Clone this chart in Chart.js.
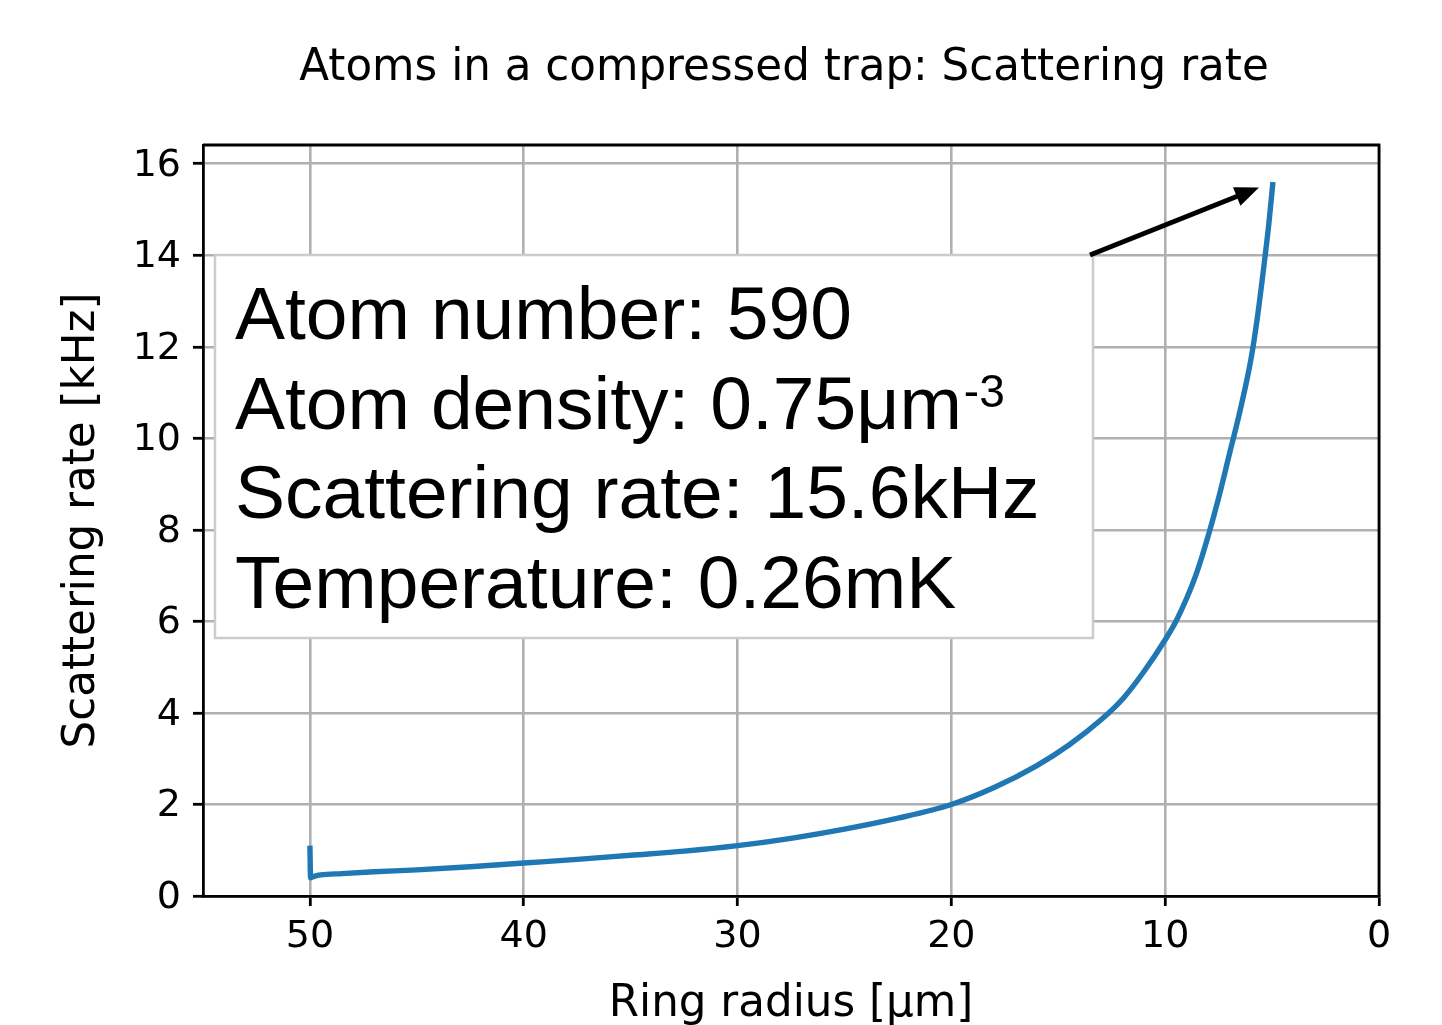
<!DOCTYPE html>
<html>
<head>
<meta charset="utf-8">
<title>Scattering rate</title>
<script src="https://cdn.jsdelivr.net/npm/chart.js@4/dist/chart.umd.min.js"></script>
<style>
  html, body { margin: 0; padding: 0; background: #fff; }
  #wrap { width: 1442px; height: 1025px; }
</style>
</head>
<body>
<div id="wrap"><canvas id="rateChart" width="1442" height="1025"></canvas></div>
<script>
// Rayon de l'anneau [µm] et taux de diffusion [kHz]
const radius = [50.0, 49.97, 49.8, 49.5, 48.5, 47, 45, 42.5, 40, 37.5, 35, 32.5, 30, 27.5, 25, 22.5,
  20, 18, 16, 14.5, 13, 12, 11, 10, 9.5, 9, 8.5, 8, 7.5, 7, 6.5, 6, 5.7, 5.4, 5.15, 4.96];
const rate = [1.10, 0.40, 0.43, 0.46, 0.49, 0.53, 0.57, 0.64, 0.72, 0.80, 0.89, 0.98, 1.10, 1.26, 1.46, 1.70,
  2.00, 2.37, 2.85, 3.30, 3.85, 4.30, 4.90, 5.60, 6.00, 6.50, 7.10, 7.85, 8.70, 9.65, 10.6, 11.7, 12.6, 13.7, 14.7, 15.6];

const xTicks = [0, 10, 20, 30, 40, 50];
const yTicks = [0, 2, 4, 6, 8, 10, 12, 14, 16];

const titleText = 'Atoms in a compressed trap: Scattering rate';
const xTitle = 'Ring radius [μm]';
const yTitle = 'Scattering rate [kHz]';

// Lignes de l'encadré (la densité a un exposant à part)
const infoLines = ['Atom number: 590', 'Atom density: 0.75μm', 'Scattering rate: 15.6kHz', 'Temperature: 0.26mK'];
const densityExp = '-3';

const AXES_FONT = '"DejaVu Sans", sans-serif';
const BOX_FONT = '"Liberation Sans", Arial, sans-serif';

// Cadre, titre, encadré et flèche
const decorations = {
  id: 'decorations',
  afterDraw(chart) {
    const ctx = chart.ctx;
    const area = chart.chartArea;
    const xs = chart.scales.x, ys = chart.scales.y;
    ctx.save();

    // bords haut et droit
    ctx.strokeStyle = '#000';
    ctx.lineWidth = 2.8;
    ctx.beginPath();
    ctx.moveTo(area.left, area.top);
    ctx.lineTo(area.right, area.top);
    ctx.lineTo(area.right, area.bottom);
    ctx.stroke();

    // titre
    ctx.fillStyle = '#000';
    ctx.font = '43.6px ' + AXES_FONT;
    ctx.textAlign = 'center';
    ctx.textBaseline = 'alphabetic';
    ctx.fillText(titleText, 784, 80);

    // encadré
    const box = { left: area.left + 12, top: area.top + 110, width: 878, height: 383 };
    ctx.fillStyle = '#fff';
    ctx.fillRect(box.left, box.top, box.width, box.height);
    ctx.strokeStyle = '#cccccc';
    ctx.lineWidth = 2.5;
    ctx.strokeRect(box.left, box.top, box.width, box.height);

    ctx.fillStyle = '#000';
    ctx.textAlign = 'left';
    infoLines.forEach((line, i) => {
      const y = box.top + 84 + i * 89.5;
      ctx.font = '75px ' + BOX_FONT;
      ctx.fillText(line, box.left + 20, y);
      if (i === 1) {
        const w = ctx.measureText(line).width;
        ctx.font = '46px ' + BOX_FONT;
        ctx.fillText(densityExp, box.left + 20 + w + 2, y - 22);
      }
    });

    // flèche vers le dernier point
    const last = radius.length - 1;
    const tx = xs.getPixelForValue(radius[last]);
    const ty = ys.getPixelForValue(rate[last]);
    const sx = box.left + box.width - 3, sy = box.top;
    const dx = tx - sx, dy = ty - sy;
    const len = Math.hypot(dx, dy);
    const ux = dx / len, uy = dy / len;
    const ex = tx - ux * 15, ey = ty - uy * 15;
    const headLen = 24, headW = 10;
    const bx = ex - ux * headLen, by = ey - uy * headLen;
    ctx.strokeStyle = '#000';
    ctx.lineWidth = 5;
    ctx.beginPath();
    ctx.moveTo(sx, sy);
    ctx.lineTo(bx + ux * 2, by + uy * 2);
    ctx.stroke();
    ctx.fillStyle = '#000';
    ctx.beginPath();
    ctx.moveTo(ex, ey);
    ctx.lineTo(bx - uy * headW, by + ux * headW);
    ctx.lineTo(bx + uy * headW, by - ux * headW);
    ctx.closePath();
    ctx.fill();

    ctx.restore();
  }
};

const ctx = document.getElementById('rateChart').getContext('2d');
new Chart(ctx, {
  type: 'scatter',
  data: {
    datasets: [{
      data: radius.map((r, i) => ({ x: r, y: rate[i] })),
      showLine: true,
      borderColor: '#1f77b4',
      borderWidth: 5.4,
      pointRadius: 0,
      cubicInterpolationMode: 'monotone',
      borderJoinStyle: 'round',
      fill: false
    }]
  },
  options: {
    responsive: false,
    animation: false,
    layout: { padding: { left: 0, right: 63, top: 145, bottom: 0 } },
    plugins: { legend: { display: false }, tooltip: { enabled: false } },
    scales: {
      x: {
        type: 'linear',
        reverse: true,
        min: 0,
        max: 55,
        afterBuildTicks(axis) { axis.ticks = xTicks.map(v => ({ value: v })); },
        afterFit(axis) { axis.height = 129; },
        grid: { color: '#b0b0b0', lineWidth: 2.6, tickLength: 10, tickColor: '#000', tickWidth: 2.8 },
        border: { display: true, color: '#000', width: 2.8 },
        ticks: { color: '#000', font: { family: AXES_FONT, size: 38 }, padding: 8, maxRotation: 0 },
        title: { display: true, text: xTitle, color: '#000', font: { family: AXES_FONT, size: 43.6 }, padding: { top: 0, bottom: -6 } }
      },
      y: {
        type: 'linear',
        min: 0,
        max: 16.41,
        afterBuildTicks(axis) { axis.ticks = yTicks.map(v => ({ value: v })); },
        afterFit(axis) { axis.width = 203; },
        grid: { color: '#b0b0b0', lineWidth: 2.6, tickLength: 10, tickColor: '#000', tickWidth: 2.8 },
        border: { display: true, color: '#000', width: 2.8 },
        ticks: { color: '#000', font: { family: AXES_FONT, size: 38 }, padding: 12, labelOffset: 2 },
        title: { display: true, text: yTitle, color: '#000', font: { family: AXES_FONT, size: 43.6 }, padding: { top: 57, bottom: 0 } }
      }
    }
  },
  plugins: [decorations]
});
</script>
</body>
</html>
